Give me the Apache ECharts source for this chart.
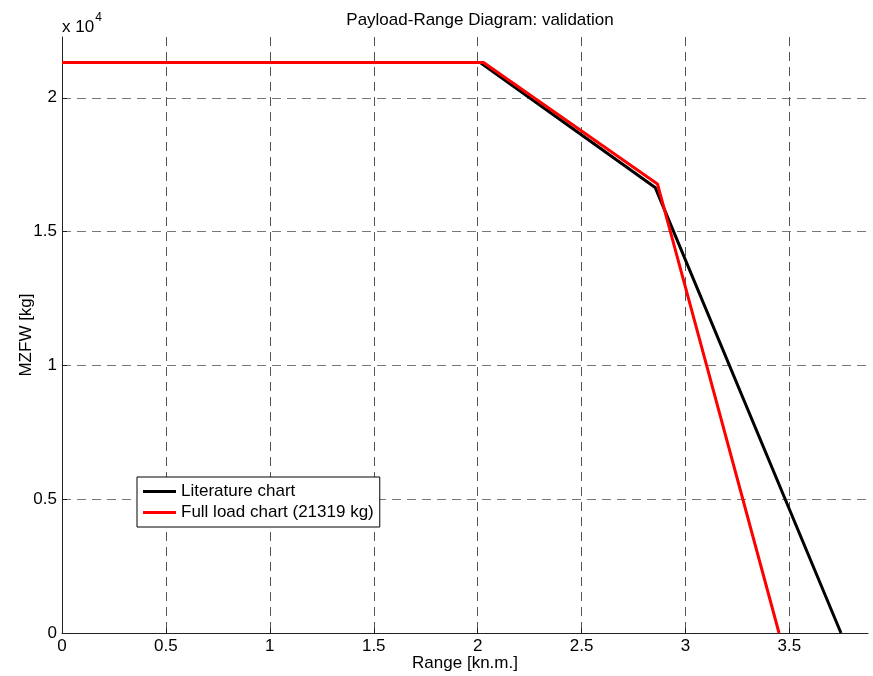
<!DOCTYPE html>
<html>
<head>
<meta charset="utf-8">
<script src="https://cdn.jsdelivr.net/npm/echarts@6/dist/echarts.min.js"></script>
<style>html,body{margin:0;padding:0;background:#fff;}#c{width:873px;height:676px;}</style>
</head>
<body>
<div id="c"></div>
<script>
const litRange = [0, 2.012, 2.854, 3.748];
const litMZFW = [21319, 21319, 16650, 0];
const fullRange = [0, 2.028, 2.865, 3.450];
const fullMZFW = [21319, 21319, 16780, 0];
const seriesNames = ['Literature chart', 'Full load chart (21319 kg)'];

const chart = echarts.init(document.getElementById('c'), null, {renderer: 'canvas'});
const F = 'Liberation Sans, Arial, sans-serif';
const FS = 17;
chart.setOption({
  animation: false,
  backgroundColor: '#fff',
  title: {
    text: 'Payload-Range Diagram: validation',
    left: 475, top: 7, textAlign: 'center',
    textStyle: {fontFamily: F, fontSize: FS, fontWeight: 'normal', color: '#000'}
  },
  grid: {left: 62, right: 5, top: 37, bottom: 43, containLabel: false, outerBoundsMode: 'none'},
  legend: {
    orient: 'vertical', left: 137, top: 477,
    data: seriesNames,
    icon: 'rect', itemWidth: 33, itemHeight: 3, itemGap: 4,
    padding: [6, 6, 6, 6],
    borderColor: '#000', borderWidth: 1, backgroundColor: '#fff', borderRadius: 0,
    textStyle: {fontFamily: F, fontSize: FS, color: '#000'}
  },
  xAxis: {
    type: 'value', min: 0, max: 3.878, interval: 0.5,
    name: 'Range [kn.m.]', nameLocation: 'middle', nameGap: 22, nameMoveOverlap: false,
    nameTextStyle: {fontFamily: F, fontSize: FS, color: '#000'},
    axisLine: {onZero: false, lineStyle: {color: '#222', width: 1}},
    axisTick: {inside: true, length: 5, lineStyle: {color: '#222'}},
    axisLabel: {fontFamily: F, fontSize: FS, color: '#000', margin: 5,
      formatter: v => String(v), showMaxLabel: false, hideOverlap: false},
    splitLine: {show: true, showMaxLine: false, showMinLine: false,
      lineStyle: {color: '#555', type: [9, 6], width: 1}}
  },
  yAxis: {
    type: 'value', min: 0, max: 22270, interval: 5000,
    name: 'MZFW [kg]', nameLocation: 'middle', nameGap: 27, nameRotate: 90, nameMoveOverlap: false,
    nameTextStyle: {fontFamily: F, fontSize: FS, color: '#000'},
    axisLine: {show: true, onZero: false, lineStyle: {color: '#222', width: 1}},
    axisTick: {show: true, inside: true, length: 5, lineStyle: {color: '#222'}},
    axisLabel: {fontFamily: F, fontSize: FS, color: '#000', margin: 5,
      formatter: v => String(v / 10000), showMaxLabel: false, hideOverlap: false},
    splitLine: {show: true, showMaxLine: false, showMinLine: false,
      lineStyle: {color: '#777', type: [9, 6], width: 1}}
  },
  graphic: [{
    type: 'text', left: 62, top: 12,
    style: {
      text: '{a|x 10}{b|4}',
      rich: {
        a: {fontFamily: F, fontSize: FS, fill: '#000', padding: [7, 0, 0, 0]},
        b: {fontFamily: F, fontSize: 12, fill: '#000', verticalAlign: 'top', padding: [0, 0, 10, 1]}
      }
    }
  }],
  series: [
    {name: seriesNames[0], type: 'line', symbol: 'none', color: '#000',
      lineStyle: {color: '#000', width: 3},
      data: litRange.map((x, i) => [x, litMZFW[i]]), z: 3},
    {name: seriesNames[1], type: 'line', symbol: 'none', color: '#ff0000',
      lineStyle: {color: '#ff0000', width: 3},
      data: fullRange.map((x, i) => [x, fullMZFW[i]]), z: 4}
  ]
});
</script>
</body>
</html>
